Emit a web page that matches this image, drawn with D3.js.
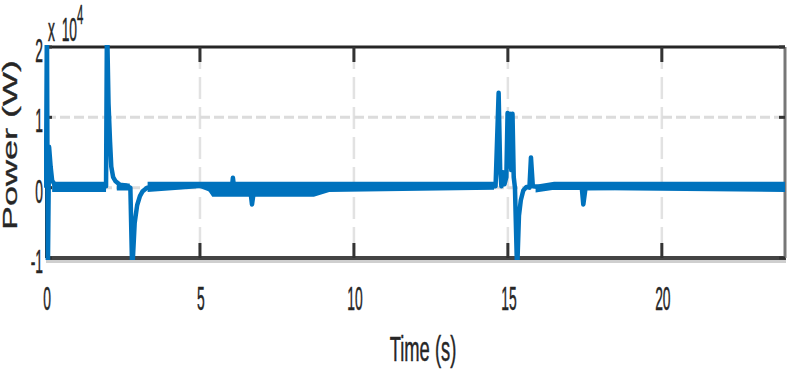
<!DOCTYPE html>
<html>
<head>
<meta charset="utf-8">
<script src="https://cdn.jsdelivr.net/npm/d3@7"></script>
<style>
  body { margin: 0; background: #fff; }
  text { font-family: "Liberation Sans", Arial, sans-serif; fill: #262626; stroke: #262626; stroke-width: 0.5px; }
</style>
</head>
<body>
<div id="chart"></div>
<script>
// trace, time in s and power in W
var timeS = [0, 0.03, 0.06, 0.10, 0.15, 0.20, 0.30, 1.00, 1.95,
  1.98, 2.03, 2.08, 2.12, 2.18, 2.26, 2.40, 2.60, 2.74,
  2.80, 2.88, 2.96, 3.05, 3.14, 3.28, 4.00, 5.00, 5.30, 5.60,
  6.03, 6.07, 6.12, 6.64, 6.69, 6.75, 7.50, 8.50, 9.20, 10.50, 12.00, 14.60,
  14.70, 14.75, 14.79, 14.84, 14.89, 14.95, 14.99, 15.03, 15.07, 15.11, 15.15, 15.19, 15.23,
  15.30, 15.36, 15.42, 15.50, 15.60, 15.70, 15.75, 15.81, 16.20,
  17.40, 17.45, 17.52, 20.00, 24.00];
var powerW = [0, 24000, -12000, 5800, 3000, 1000, 300, 200, 200,
  24000, 12000, 6500, 3000, 1500, 900, 400, 300, 0,
  -12000, -5000, -2500, -1200, -500, 0, 200, 300, -200, -400,
  -300, 1400, -400, -500, -2400, -500, -400, -300, -100, 0, 100, 200,
  13500, 2500, 200, 2200, 500, 1500, 10600, 3000, 10500, 2500, 10500, 1500, 0,
  -12000, -4000, -1800, -400, 100, 0, 4300, 200, 0,
  0, -2400, -100, 100, 200];

// noise band around the baseline (null = no band)
var bandT  = [0.20, 1.95, 1.96, 2.30, 2.72, 2.73, 3.30, 5.20, 5.40, 8.70, 9.20, 14.55, 14.56, 15.90, 16.50, 24.00];
var bandLo = [-600, -600, null, -400, -400, null, -600, 0, -1300, -1300, -600, -300, null, -700, -300, -600];
var bandHi = [850, 850, null, 600, 600, null, 850, 850, 850, 850, 850, 850, null, 400, 850, 850];

var xTicks = [0, 5, 10, 15, 20];
var yTicks = [-10000, 0, 10000, 20000];
var yTickLabels = ['-1', '0', '1', '2'];

var W = 789, H = 371;
var plot = { left: 46, right: 785, top: 47, bottom: 258 };

var svg = d3.select('#chart').append('svg')
  .attr('width', W).attr('height', H);

var x = d3.scaleLinear().domain([0, 24]).range([plot.left, plot.right]);
var y = d3.scaleLinear().domain([-10000, 20000]).range([plot.bottom, plot.top]);

// grid
svg.append('g').selectAll('line').data(xTicks.slice(1)).enter().append('line')
  .attr('x1', d => x(d)).attr('x2', d => x(d))
  .attr('y1', plot.top).attr('y2', plot.bottom)
  .attr('stroke', '#e2e2e2').attr('stroke-width', 2.5)
  .attr('stroke-dasharray', '22,8');
svg.append('g').selectAll('line').data(yTicks.slice(1, 3)).enter().append('line')
  .attr('x1', plot.left).attr('x2', plot.right)
  .attr('y1', d => y(d)).attr('y2', d => y(d))
  .attr('stroke', '#dcdcdc').attr('stroke-width', 3)
  .attr('stroke-dasharray', '10,4');

// box
svg.append('line').attr('x1', plot.left).attr('x2', plot.right + 1)
  .attr('y1', plot.bottom + 3.5).attr('y2', plot.bottom + 3.5)
  .attr('stroke', '#cfcfcf').attr('stroke-width', 3);
svg.append('line').attr('x1', plot.left).attr('x2', plot.right)
  .attr('y1', plot.top).attr('y2', plot.top)
  .attr('stroke', '#262626').attr('stroke-width', 3);
svg.append('line').attr('x1', plot.left).attr('x2', plot.right + 1)
  .attr('y1', plot.bottom).attr('y2', plot.bottom)
  .attr('stroke', '#444').attr('stroke-width', 4);
svg.append('line').attr('x1', plot.right).attr('x2', plot.right)
  .attr('y1', plot.top).attr('y2', plot.bottom)
  .attr('stroke', '#777').attr('stroke-width', 3);
svg.append('line').attr('x1', plot.left).attr('x2', plot.left)
  .attr('y1', plot.top).attr('y2', plot.bottom)
  .attr('stroke', '#262626').attr('stroke-width', 2);

// ticks
var tk = svg.append('g').attr('stroke', '#333').attr('stroke-width', 3);
xTicks.slice(1).forEach(function (d) {
  tk.append('line').attr('x1', x(d)).attr('x2', x(d)).attr('y1', plot.bottom).attr('y2', plot.bottom - 15);
  tk.append('line').attr('x1', x(d)).attr('x2', x(d)).attr('y1', plot.top).attr('y2', plot.top + 15);
});
yTicks.forEach(function (d) {
  tk.append('line').attr('x1', plot.left).attr('x2', plot.left + 6).attr('y1', y(d)).attr('y2', y(d));
  tk.append('line').attr('x1', plot.right).attr('x2', plot.right - 6).attr('y1', y(d)).attr('y2', y(d));
});

// data
svg.append('clipPath').attr('id', 'clip').append('rect')
  .attr('x', plot.left - 2).attr('y', plot.top - 2)
  .attr('width', plot.right - plot.left + 4).attr('height', plot.bottom - plot.top + 4);
var g = svg.append('g').attr('clip-path', 'url(#clip)');

var band = d3.area()
  .defined((d, i) => bandLo[i] !== null)
  .x((d, i) => x(bandT[i]))
  .y0((d, i) => y(bandLo[i]))
  .y1((d, i) => y(bandHi[i]));
g.append('path').datum(bandT).attr('d', band).attr('fill', '#0072BD');

var line = d3.line()
  .x((d, i) => x(timeS[i]))
  .y((d, i) => y(powerW[i]));
g.append('path').datum(timeS).attr('d', line)
  .attr('fill', 'none').attr('stroke', '#0072BD')
  .attr('stroke-width', 4.5).attr('stroke-linejoin', 'round');

// tick labels
svg.append('g').selectAll('text').data(xTicks).enter().append('text')
  .attr('transform', d => `translate(${x(d) + 1}, 310) scale(0.42, 1)`)
  .attr('text-anchor', 'middle').style('font-size', '33px')
  .text(d => d);
svg.append('g').selectAll('text').data(yTicks).enter().append('text')
  .attr('transform', d => `translate(43, ${y(d) + 15}) scale(0.42, 1)`)
  .attr('text-anchor', 'end').style('font-size', '33px')
  .text((d, i) => yTickLabels[i]);

// exponent
var ex = svg.append('text').attr('transform', 'translate(48, 41) scale(0.42, 1)')
  .style('font-size', '33px');
ex.append('tspan').text('x');
ex.append('tspan').attr('dx', 16).text('10');
ex.append('tspan').attr('dy', -17).style('font-size', '27px').text('4');

// axis labels
svg.append('text').attr('transform', 'translate(423, 361) scale(0.51, 1)')
  .attr('text-anchor', 'middle').style('font-size', '36px').text('Time (s)');
svg.append('text').attr('transform', 'translate(17, 145) rotate(-90) scale(1, 0.55)')
  .attr('text-anchor', 'middle').style('font-size', '36px').text('Power (W)');
</script>
</body>
</html>
